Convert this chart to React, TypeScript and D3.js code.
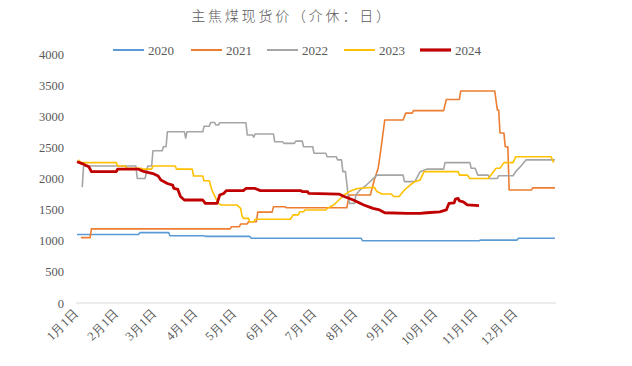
import React from "react";
import * as d3 from "d3";

const title = "主焦煤现货价（介休：日）";
const yTicks = [0, 500, 1000, 1500, 2000, 2500, 3000, 3500, 4000];
const monthDays = [0, 31, 60, 91, 121, 152, 182, 213, 244, 274, 305, 335];
const monthLabels = ["1月1日", "2月1日", "3月1日", "4月1日", "5月1日", "6月1日", "7月1日", "8月1日", "9月1日", "10月1日", "11月1日", "12月1日"];

const s2020: [number, number][] = [[0,1100],[47,1100],[48,1130],[70,1130],[71,1080],[97,1080],[98,1070],[132,1070],[133,1040],[217,1040],[218,1000],[307,1000],[308,1010],[336,1010],[337,1040],[365,1040]];
const s2021: [number, number][] = [[3,1050],[10,1050],[11,1190],[117,1190],[118,1225],[124,1225],[125,1270],[130,1270],[131,1305],[137,1305],[138,1460],[149,1460],[150,1545],[159,1545],[160,1530],[206,1530],[208,1735],[224,1735],[227,1975],[230,2170],[232,2460],[235,2940],[249,2940],[251,3050],[256,3050],[257,3090],[280,3090],[282,3270],[292,3270],[293,3405],[319,3405],[321,3100],[322,3100],[323,2730],[326,2730],[327,2510],[329,2510],[330,1815],[347,1815],[348,1850],[365,1850]];
const s2022: [number, number][] = [[4,1860],[5,2200],[45,2200],[46,2000],[52,2000],[54,2200],[57,2200],[58,2445],[65,2445],[66,2510],[68,2510],[69,2750],[82,2750],[83,2650],[84,2750],[96,2750],[97,2840],[101,2840],[102,2900],[105,2900],[106,2860],[108,2860],[109,2895],[129,2895],[130,2700],[134,2700],[135,2665],[136,2715],[150,2715],[151,2590],[157,2590],[158,2565],[166,2565],[167,2600],[172,2600],[173,2510],[180,2510],[181,2405],[190,2405],[191,2350],[198,2350],[199,2300],[202,2300],[203,2110],[205,2110],[207,1735],[208,1600],[212,1600],[213,1735],[216,1815],[221,1895],[229,2055],[249,2055],[250,1950],[258,1950],[260,2030],[262,2110],[267,2150],[280,2150],[281,2255],[300,2255],[301,2165],[304,2165],[306,2055],[314,2055],[315,2000],[321,2000],[322,2045],[333,2045],[335,2110],[339,2200],[343,2300],[365,2300]];
const s2023: [number, number][] = [[1,2300],[3,2255],[30,2255],[31,2200],[37,2200],[38,2165],[49,2165],[50,2150],[57,2150],[58,2200],[75,2200],[76,2150],[88,2150],[89,2040],[96,2040],[97,1965],[101,1965],[103,1815],[106,1680],[108,1600],[110,1575],[122,1575],[125,1520],[126,1400],[127,1360],[131,1360],[132,1305],[135,1305],[136,1345],[163,1345],[165,1415],[169,1415],[170,1465],[173,1465],[174,1495],[190,1495],[191,1520],[196,1575],[200,1655],[204,1735],[208,1790],[214,1840],[227,1860],[229,1790],[233,1750],[240,1750],[242,1710],[246,1710],[250,1815],[253,1870],[256,1920],[258,1950],[262,1975],[265,2110],[291,2110],[292,2055],[298,2055],[300,2000],[314,2000],[315,2030],[317,2080],[320,2165],[323,2165],[326,2255],[333,2255],[335,2350],[362,2350],[364,2255]];
const s2024: [number, number][] = [[0,2270],[5,2230],[9,2190],[11,2110],[30,2110],[31,2150],[47,2150],[50,2120],[58,2080],[62,2040],[64,1975],[69,1920],[73,1895],[74,1840],[77,1825],[79,1710],[82,1655],[96,1655],[98,1600],[107,1600],[109,1735],[112,1760],[114,1805],[127,1805],[129,1840],[136,1840],[140,1805],[171,1805],[172,1790],[176,1790],[177,1760],[200,1750],[204,1710],[211,1655],[219,1575],[226,1520],[231,1495],[235,1450],[252,1440],[262,1440],[267,1450],[277,1465],[282,1495],[284,1600],[288,1610],[289,1670],[291,1680],[292,1640],[295,1625],[298,1575],[307,1565]];

const seriesNames = ["2020", "2021", "2022", "2023", "2024"];
const seriesData = [s2020, s2021, s2022, s2023, s2024];
const colors = ["#5B9BD5", "#ED7D31", "#A5A5A5", "#FFC000", "#C00000"];
const widths = [1.6, 1.6, 1.6, 1.6, 2.8];

const W = 632, H = 366;
const x = d3.scaleLinear().domain([0, 365]).range([77, 555]);
const y = d3.scaleLinear().domain([0, 4000]).range([303, 54]);
const line = d3.line<[number, number]>().x(d => x(d[0])).y(d => y(d[1]));

const legendX = [113, 191, 267, 344, 420];
const serif = "'Liberation Serif', 'DejaVu Serif', serif";
const cjk = "'Noto Sans CJK SC', sans-serif";

export default function App() {
  return (
    <svg width={W} height={H} style={{ position: "absolute", left: 0, top: 0, background: "#fff" }}>
      <text x={292} y={21} textAnchor="middle" fontSize={14} fill="#595959" fontFamily={cjk} fontWeight={300} letterSpacing={2.8}>{title}</text>
      {seriesNames.map((n, i) => (
        <g key={n}>
          <line x1={legendX[i]} x2={legendX[i] + 31} y1={50} y2={50} stroke={colors[i]} strokeWidth={widths[i] + 0.4} />
          <text x={legendX[i] + 35} y={54.5} fontSize={13} fill="#595959" fontFamily={serif}>{n}</text>
        </g>
      ))}
      {yTicks.map(t => (
        <text key={t} x={64} y={y(t) + 4.5} textAnchor="end" fontSize={12.5} fill="#595959" fontFamily={serif}>{t}</text>
      ))}
      <line x1={76} x2={556} y1={y(0)} y2={y(0)} stroke="#D9D9D9" strokeWidth={1} />
      {monthDays.map((d, i) => (
        <text key={d} transform={`translate(${x(d) + 2},${314}) rotate(-45)`} textAnchor="end" fontSize={12.5} fill="#595959" fontFamily={serif}>
          {monthLabels[i]}
        </text>
      ))}
      {seriesData.map((s, i) => (
        <path key={i} d={line(s) || ""} fill="none" stroke={colors[i]} strokeWidth={widths[i]} strokeLinejoin="round" />
      ))}
    </svg>
  );
}
